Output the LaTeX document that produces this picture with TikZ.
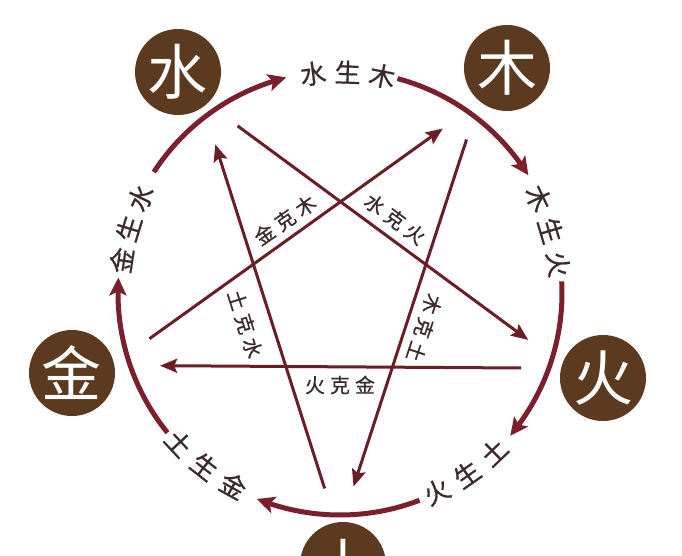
\documentclass[tikz,border=0pt]{standalone}
\usepackage{fontspec}
\newfontfamily\cjk{Noto Sans CJK SC}
\newfontfamily\cjkb[FakeBold=0.6]{Noto Sans CJK SC}
\usetikzlibrary{arrows.meta,bending}
\definecolor{elem}{HTML}{5B3A1F}
\definecolor{arcc}{HTML}{7A1F2B}
\definecolor{linec}{HTML}{6A1E26}
\definecolor{txt}{HTML}{3A2A2C}
\begin{document}
\begin{tikzpicture}[x=1pt,y=1pt,
  elemnode/.style={circle,fill=elem,minimum size=86pt,inner sep=0pt,text=white,font=\cjk\fontsize{60}{60}\selectfont},
  arcline/.style={draw=arcc,line width=5pt,-{Stealth[length=18pt,width=17pt,inset=4pt,bend]}},
  starline/.style={draw=linec,line width=3pt,-{Stealth[length=17pt,width=14pt,inset=3pt]}},
  arclabel/.style={text=txt,font=\cjkb\fontsize{26}{26}\selectfont,inner sep=0pt},
  starlabel/.style={text=txt,font=\cjkb\fontsize{20}{20}\selectfont,inner sep=0pt}]
\useasboundingbox[fill=white] (-340,-263) rectangle (342,293);

% element discs
\node[elemnode] (shui) at (-162,221) {水};
\node[elemnode] (mu) at (167,225) {木};
\node[elemnode] (huo) at (263,-85) {火};
\node[elemnode] (jin) at (-268,-80) {金};
\node[elemnode] (tu) at (3,-272) {土};

% generating cycle arcs
\foreach \k in {0,...,4}{
  \coordinate (arcstart\k) at ({147-72*\k}:222);
  \draw[arcline] (arcstart\k) arc[start angle={147-72*\k}, end angle={104-72*\k}, radius=222];
}

% arc labels (outward, clockwise)
\foreach \a/\c [count=\i] in {97/水,88/生,79/木}
  \node[arclabel,rotate=\a-90] (sa\i) at (\a:221) {\c};
\foreach \a/\c [count=\i] in {25.5/木,16.5/生,7.5/火}
  \node[arclabel,rotate=\a-90] (sb\i) at (\a:220) {\c};
\foreach \a/\c [count=\i] in {171.5/金,163/生,154.5/水}
  \node[arclabel,rotate=\a-90] (se\i) at (\a:221) {\c};
% arc labels (inward, counter-clockwise)
\foreach \a/\c [count=\i] in {-64/火,-55/生,-46/土}
  \node[arclabel,rotate=\a+90] (sc\i) at (\a:221) {\c};
\foreach \a/\c [count=\i] in {223/土,232/生,241/金}
  \node[arclabel,rotate=\a+90] (sd\i) at (\a:220) {\c};

% controlling star
\coordinate (k1a) at (193.5:196); \coordinate (k1b) at (58:194);
\coordinate (k2a) at (121.5:196); \coordinate (k2b) at (-14:194);
\coordinate (k3a) at (50.5:199);  \coordinate (k3b) at (-86:194);
\coordinate (k4a) at (-94.5:196); \coordinate (k4b) at (130:194);
\coordinate (k5a) at (-22.5:196); \coordinate (k5b) at (202:194);
\draw[starline] (k1a) -- (k1b);
\draw[starline] (k2a) -- (k2b);
\draw[starline] (k3a) -- (k3b);
\draw[starline] (k4a) -- (k4b);
\draw[starline] (k5a) -- (k5b);

\node[starlabel,rotate=35] (l1) at (-55,73) {金\hspace{5pt}克\hspace{5pt}木};
\node[starlabel,rotate=-36.4] (l2) at (55,74) {水\hspace{5pt}克\hspace{5pt}火};
\node[starlabel,rotate=-108.3] (l3) at (84,-35) {木\hspace{5pt}克\hspace{5pt}土};
\node[starlabel,rotate=-72.4] (l4) at (-95,-31) {土\hspace{5pt}克\hspace{5pt}水};
\node[starlabel] (l5) at (0,-92) {火\hspace{5pt}克\hspace{5pt}金};
\end{tikzpicture}
\end{document}
